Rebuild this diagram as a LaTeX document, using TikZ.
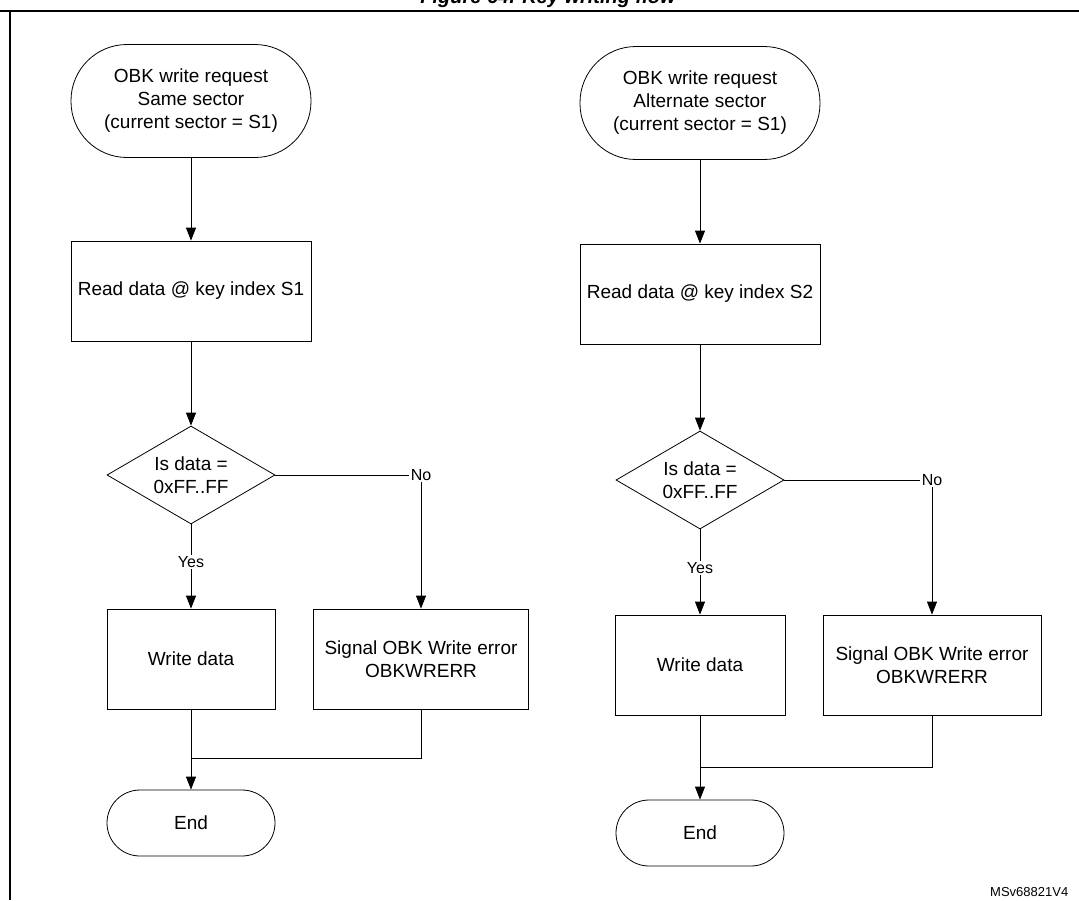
\documentclass[tikz,border=0pt]{standalone}
\usepackage{fontspec}
\setmainfont{Liberation Sans}
\usetikzlibrary{shapes.geometric,arrows.meta}
\begin{document}
\begin{tikzpicture}[x=1pt,y=1pt,
  every node/.style={font=\fontsize{19}{23}\selectfont, align=center},
  term/.style={draw, rectangle, inner sep=0, minimum width=#1},
  boxn/.style={draw, rectangle, inner sep=0, minimum width=#1, minimum height=100},
  dec/.style={draw, diamond, inner sep=0, aspect=1.7, minimum width=168, minimum height=98},
  lbl/.style={fill=white, inner sep=1.5, font=\fontsize{16}{18}\selectfont},
  arr/.style={-{Triangle[width=10pt,length=13pt]}},
  line width=0.8pt]
\useasboundingbox (0,0) rectangle (1079,-900);
\node[anchor=base, font=\fontsize{20}{23}\selectfont\bfseries\itshape] (title) at (548,-3) {Figure 64. Key writing flow};
\draw[line width=1.6pt] (0,-11) -- (1079,-11);
\draw[line width=1.6pt] (10,-11) -- (10,-900);
% left
\node[term=240, minimum height=113, rounded corners=56] (s1) at (191,-101) {OBK write request\\Same sector\\(current sector = S1)};
\node[boxn=240] (r1) at (191,-291) {Read data @ key index S1};
\node[dec] (d1) at (191,-475) {Is data =\\0xFF..FF};
\node[boxn=168] (w1) at (191,-659) {Write data};
\node[boxn=215] (e1) at (421,-659) {Signal OBK Write error\\OBKWRERR};
\node[term=168, minimum height=66, rounded corners=33] (n1) at (191,-823) {End};
\coordinate (m1) at (191,-758);
\draw[arr] (s1) -- (r1);
\draw[arr] (r1) -- (d1);
\draw[arr] (d1) -- node[lbl, pos=0.45] {Yes} (w1);
\draw[arr] (d1.east) -| node[lbl, pos=0.5] {No} (e1.north);
\draw[arr] (w1) -- (n1);
\draw (e1.south) |- (m1);
% right
\node[term=240, minimum height=113, rounded corners=56] (s2) at (700,-103) {OBK write request\\Alternate sector\\(current sector = S1)};
\node[boxn=240] (r2) at (700,-294) {Read data @ key index S2};
\node[dec] (d2) at (700,-480) {Is data =\\0xFF..FF};
\node[boxn=170] (w2) at (700,-665) {Write data};
\node[boxn=218] (e2) at (932,-665) {Signal OBK Write error\\OBKWRERR};
\node[term=168, minimum height=66, rounded corners=33] (n2) at (700,-833) {End};
\coordinate (m2) at (700,-767);
\draw[arr] (s2) -- (r2);
\draw[arr] (r2) -- (d2);
\draw[arr] (d2) -- node[lbl, pos=0.45] {Yes} (w2);
\draw[arr] (d2.east) -| node[lbl, pos=0.5] {No} (e2.north);
\draw[arr] (w2) -- (n2);
\draw (e2.south) |- (m2);
\node[anchor=base east, font=\fontsize{13}{15}\selectfont] (id) at (1072,-896) {MSv68821V4};
\end{tikzpicture}
\end{document}
